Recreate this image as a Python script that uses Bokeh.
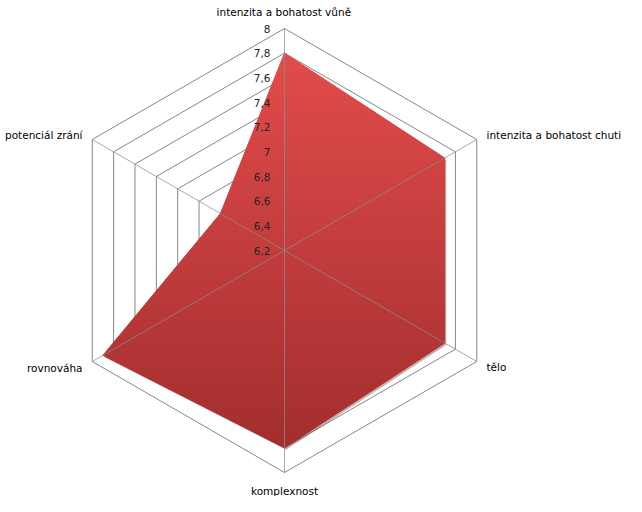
import numpy as np
from bokeh.plotting import figure
from bokeh.models import Range1d, ColumnDataSource
from bokeh.core.properties import value
from bokeh.embed import file_html
from bokeh.resources import INLINE

categories = ["intenzita a bohatost  vůně", "intenzita a bohatost  chuti", "tělo",
              "komplexnost", "rovnováha", "potenciál zrání"]
values = [7.8, 7.7, 7.7, 7.8, 7.9, 6.8]
ticks = [6.2, 6.4, 6.6, 6.8, 7.0, 7.2, 7.4, 7.6, 7.8, 8.0]
tick_labels = ["6,2", "6,4", "6,6", "6,8", "7", "7,2", "7,4", "7,6", "7,8", "8"]
vmin, vmax = 6.2, 8.0

W, H = 626, 496
CX, CY = 284, 250
R = 222.0  # pixel radius of max ring
p = figure(width=W, height=H, output_backend="svg", toolbar_location=None,
           x_range=Range1d(-CX, W - CX), y_range=Range1d(-(H - CY), CY),
           min_border=0)
p.axis.visible = False
p.grid.visible = False
p.outline_line_color = None

n = len(categories)
ang = np.pi / 2 - np.arange(n) * 2 * np.pi / n

def rad(v):
    return (np.asarray(v, dtype=float) - vmin) / (vmax - vmin) * R

# rings
for t in ticks[1:]:
    r = rad(t)
    xs = list(r * np.cos(ang)) + [r * np.cos(ang[0])]
    ys = list(r * np.sin(ang)) + [r * np.sin(ang[0])]
    p.line(xs, ys, line_color="#868686", line_width=1)

# polygon
r = rad(values)
px = r * np.cos(ang)
py = r * np.sin(ang)

# shadow
p.patch(list(px + 1.5), list(py - 2), fill_color="#5a1a1a", fill_alpha=0.35, line_color=None)

def clip(poly, lo, hi):
    def clip_edge(pts, keep, inter):
        out = []
        for i in range(len(pts)):
            a, b = pts[i - 1], pts[i]
            ka, kb = keep(a), keep(b)
            if kb:
                if not ka:
                    out.append(inter(a, b))
                out.append(b)
            elif ka:
                out.append(inter(a, b))
        return out
    def inter_y(y0):
        def f(a, b):
            t = (y0 - a[1]) / (b[1] - a[1])
            return (a[0] + t * (b[0] - a[0]), y0)
        return f
    pts = clip_edge(poly, lambda q: q[1] >= lo, inter_y(lo))
    if not pts:
        return pts
    pts = clip_edge(pts, lambda q: q[1] <= hi, inter_y(hi))
    return pts

poly = list(zip(px, py))
ytop, ybot = py.max(), py.min()
nb = 40
top_c = np.array([226, 76, 76])
bot_c = np.array([163, 46, 46])
edges = np.linspace(ybot, ytop, nb + 1)
bxs, bys, cols = [], [], []
for i in range(nb):
    pts = clip(poly, edges[i], edges[i + 1])
    if len(pts) < 3:
        continue
    f = (0.5 * (edges[i] + edges[i + 1]) - ybot) / (ytop - ybot)
    c = (bot_c + f * (top_c - bot_c)).astype(int)
    col = "#%02x%02x%02x" % tuple(c)
    bxs.append([q[0] for q in pts])
    bys.append([q[1] for q in pts])
    cols.append(col)
p.patches(bxs, bys, fill_color=cols, line_color=cols, line_width=1)

# spokes
for a in ang:
    p.line([0, R * np.cos(a)], [0, R * np.sin(a)], line_color="#8c8c8c", line_width=1, line_alpha=0.75)

# tick labels
src = ColumnDataSource(dict(x=[-14] * len(ticks), y=list(rad(ticks)), t=tick_labels))
p.text("x", "y", "t", source=src, text_align="right", text_baseline="middle",
       text_font_size="10.5px", text_color="#262626", text_font=value("DejaVu Sans"))

# category labels
lx = [1, 202, 202, 0, -202, -202]
ly = [239, 116, -116, -240, -117, 116]
al = ["center", "left", "left", "center", "right", "right"]
for x, y, t, a in zip(lx, ly, categories, al):
    p.text([x], [y], [t], text_align=a, text_baseline="middle", text_font_size="10.5px",
           text_color="#000000", text_font=value("DejaVu Sans"))

open("out.html", "w").write(file_html(p, INLINE))
